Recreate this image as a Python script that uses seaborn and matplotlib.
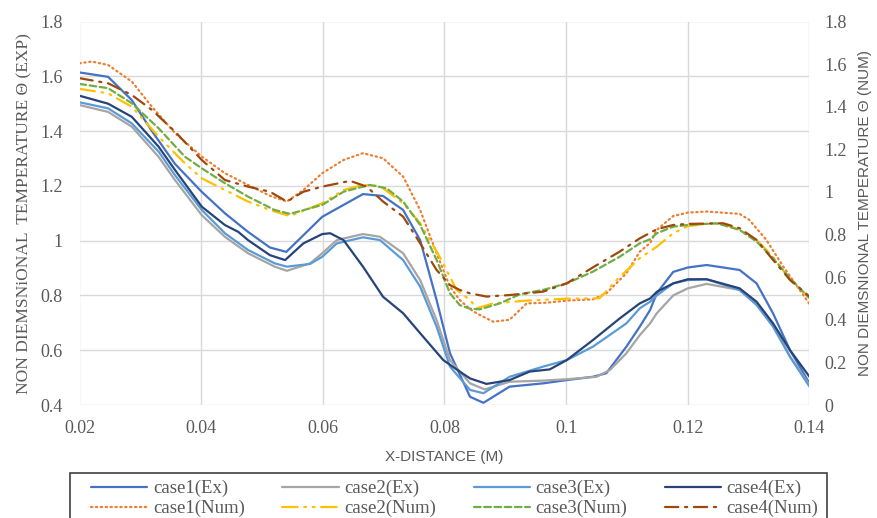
import matplotlib
matplotlib.use("Agg")
import matplotlib.pyplot as plt
from matplotlib.patches import Rectangle
import seaborn as sns

# ---------------- data ----------------
case1_ex_x = [0.020, 0.0247, 0.0286, 0.0319, 0.0357, 0.0401, 0.0439, 0.0477, 0.0513, 0.0540, 0.0599, 0.0666,
              0.0699, 0.0732, 0.0760, 0.0787, 0.0809, 0.0842, 0.0864, 0.0907, 0.0962, 0.1001, 0.1044, 0.1066,
              0.1099, 0.1121, 0.1138, 0.1149, 0.1176, 0.1200, 0.1231, 0.1285, 0.1313, 0.1340, 0.1368, 0.1400]
case1_ex_y = [1.614, 1.598, 1.513, 1.400, 1.280, 1.178, 1.100, 1.032, 0.975, 0.959, 1.087, 1.170,
              1.163, 1.112, 1.002, 0.783, 0.589, 0.430, 0.408, 0.467, 0.479, 0.491, 0.503, 0.516,
              0.613, 0.686, 0.747, 0.808, 0.886, 0.902, 0.911, 0.893, 0.844, 0.735, 0.600, 0.479]

case2_ex_x = [0.020, 0.0247, 0.0286, 0.0330, 0.0357, 0.0401, 0.0439, 0.0477, 0.0521, 0.0541, 0.0579, 0.0599,
              0.0623, 0.0666, 0.0694, 0.0732, 0.0760, 0.0787, 0.0809, 0.0842, 0.0866, 0.0907, 0.0962, 0.1001,
              0.1050, 0.1072, 0.1099, 0.1121, 0.1138, 0.1149, 0.1176, 0.1200, 0.1231, 0.1285, 0.1313, 0.1340,
              0.1368, 0.1400]
case2_ex_y = [1.495, 1.470, 1.416, 1.306, 1.221, 1.093, 1.014, 0.954, 0.905, 0.890, 0.917, 0.954,
              1.002, 1.024, 1.014, 0.954, 0.856, 0.710, 0.564, 0.479, 0.457, 0.485, 0.489, 0.494,
              0.503, 0.528, 0.589, 0.655, 0.698, 0.735, 0.800, 0.826, 0.842, 0.820, 0.771, 0.698,
              0.576, 0.473]

case3_ex_x = [0.020, 0.0247, 0.0286, 0.0330, 0.0357, 0.0401, 0.0439, 0.0477, 0.0521, 0.0541, 0.0579, 0.0599,
              0.0623, 0.0666, 0.0694, 0.0732, 0.0760, 0.0787, 0.0809, 0.0842, 0.0864, 0.0907, 0.0962, 0.1001,
              0.1044, 0.1099, 0.1121, 0.1138, 0.1149, 0.1176, 0.1200, 0.1231, 0.1285, 0.1313, 0.1340, 0.1368,
              0.1400]
case3_ex_y = [1.505, 1.483, 1.428, 1.325, 1.239, 1.112, 1.027, 0.966, 0.917, 0.905, 0.915, 0.941,
              0.990, 1.012, 1.002, 0.929, 0.832, 0.686, 0.540, 0.455, 0.443, 0.503, 0.540, 0.564,
              0.613, 0.698, 0.753, 0.777, 0.800, 0.844, 0.856, 0.859, 0.820, 0.765, 0.686, 0.576,
              0.467]

case4_ex_x = [0.020, 0.0247, 0.0286, 0.0330, 0.0357, 0.0401, 0.0439, 0.0461, 0.0477, 0.0513, 0.0538, 0.0568,
              0.0599, 0.0612, 0.0634, 0.0666, 0.0699, 0.0732, 0.0760, 0.0798, 0.0825, 0.0842, 0.0869, 0.0907,
              0.0940, 0.0973, 0.1001, 0.1044, 0.1088, 0.1121, 0.1138, 0.1149, 0.1176, 0.1200, 0.1231, 0.1285,
              0.1313, 0.1340, 0.1368, 0.1400]
case4_ex_y = [1.529, 1.500, 1.452, 1.343, 1.258, 1.124, 1.057, 1.032, 1.002, 0.947, 0.929, 0.990,
              1.024, 1.027, 1.002, 0.905, 0.795, 0.735, 0.662, 0.564, 0.522, 0.497, 0.477, 0.491,
              0.522, 0.530, 0.564, 0.637, 0.716, 0.771, 0.789, 0.813, 0.844, 0.859, 0.859, 0.826,
              0.777, 0.698, 0.600, 0.503]

case1_num_x = [0.020, 0.0220, 0.0247, 0.0286, 0.0319, 0.0357, 0.0401, 0.0439, 0.0477, 0.0513, 0.0541, 0.0568,
               0.0599, 0.0634, 0.0666, 0.0699, 0.0732, 0.0760, 0.0787, 0.0809, 0.0825, 0.0842, 0.0853, 0.0880,
               0.0907, 0.0935, 0.0968, 0.1001, 0.1044, 0.1066, 0.1099, 0.1121, 0.1138, 0.1149, 0.1176, 0.1200,
               0.1231, 0.1285, 0.1301, 0.1329, 0.1357, 0.1384, 0.1400]
case1_num_y = [1.604, 1.612, 1.596, 1.518, 1.400, 1.276, 1.166, 1.088, 1.033, 0.982, 0.955, 1.009,
               1.088, 1.150, 1.182, 1.158, 1.072, 0.915, 0.712, 0.555, 0.493, 0.450, 0.430, 0.391,
               0.400, 0.477, 0.480, 0.490, 0.496, 0.524, 0.618, 0.720, 0.760, 0.822, 0.887, 0.903,
               0.908, 0.897, 0.869, 0.775, 0.649, 0.540, 0.474]

case2_num_x = [0.020, 0.0247, 0.0286, 0.0330, 0.0373, 0.0401, 0.0439, 0.0477, 0.0499, 0.0513, 0.0546, 0.0599,
               0.0634, 0.0666, 0.0694, 0.0732, 0.0760, 0.0792, 0.0820, 0.0842, 0.0853, 0.0880, 0.0935, 0.1001,
               0.1055, 0.1083, 0.1121, 0.1149, 0.1176, 0.1200, 0.1231, 0.1258, 0.1285, 0.1313, 0.1340, 0.1368,
               0.1400]
case2_num_y = [1.484, 1.463, 1.400, 1.260, 1.135, 1.064, 1.009, 0.955, 0.931, 0.915, 0.887, 0.947,
               1.009, 1.033, 1.028, 0.947, 0.853, 0.696, 0.540, 0.493, 0.454, 0.477, 0.490, 0.499,
               0.501, 0.587, 0.689, 0.743, 0.806, 0.840, 0.850, 0.850, 0.822, 0.775, 0.696, 0.587,
               0.501]

case3_num_x = [0.020, 0.0247, 0.0286, 0.0330, 0.0373, 0.0401, 0.0439, 0.0477, 0.0521, 0.0546, 0.0599, 0.0634,
               0.0677, 0.0705, 0.0732, 0.0760, 0.0787, 0.0809, 0.0825, 0.0842, 0.0858, 0.0891, 0.0924, 0.0962,
               0.1001, 0.1044, 0.1088, 0.1121, 0.1138, 0.1149, 0.1176, 0.1200, 0.1247, 0.1285, 0.1313, 0.1340,
               0.1368, 0.1400]
case3_num_y = [1.507, 1.487, 1.416, 1.299, 1.166, 1.111, 1.041, 0.978, 0.915, 0.897, 0.939, 1.001,
               1.033, 1.017, 0.955, 0.845, 0.681, 0.524, 0.469, 0.452, 0.449, 0.477, 0.520, 0.540,
               0.571, 0.626, 0.696, 0.759, 0.778, 0.806, 0.837, 0.845, 0.853, 0.822, 0.767, 0.689,
               0.595, 0.501]

case4_num_x = [0.020, 0.0247, 0.0286, 0.0319, 0.0357, 0.0401, 0.0439, 0.0477, 0.0513, 0.0541, 0.0568, 0.0599,
               0.0645, 0.0672, 0.0699, 0.0732, 0.0760, 0.0787, 0.0809, 0.0825, 0.0842, 0.0869, 0.0907, 0.0962,
               0.1001, 0.1044, 0.1088, 0.1121, 0.1149, 0.1176, 0.1200, 0.1258, 0.1285, 0.1313, 0.1340, 0.1368,
               0.1400]
case4_num_y = [1.534, 1.510, 1.455, 1.385, 1.283, 1.150, 1.056, 1.025, 1.001, 0.955, 1.001, 1.025,
               1.052, 1.025, 0.955, 0.884, 0.759, 0.634, 0.563, 0.540, 0.524, 0.509, 0.516, 0.532,
               0.571, 0.646, 0.720, 0.782, 0.825, 0.845, 0.850, 0.853, 0.830, 0.775, 0.681, 0.587,
               0.509]

x_ticks = [0.02, 0.04, 0.06, 0.08, 0.1, 0.12, 0.14]
x_tick_labels = ["0.02", "0.04", "0.06", "0.08", "0.1", "0.12", "0.14"]
left_ticks = [0.4, 0.6, 0.8, 1.0, 1.2, 1.4, 1.6, 1.8]
left_tick_labels = ["0.4", "0.6", "0.8", "1", "1.2", "1.4", "1.6", "1.8"]
right_ticks = [0, 0.2, 0.4, 0.6, 0.8, 1.0, 1.2, 1.4, 1.6, 1.8]
right_tick_labels = ["0", "0.2", "0.4", "0.6", "0.8", "1", "1.2", "1.4", "1.6", "1.8"]

# ---------------- styling ----------------
sns.set_theme(style="white")
plt.rcParams['font.family'] = ['Liberation Serif', 'DejaVu Serif']
GRAY = "#595959"
W, H = 878, 518

fig = plt.figure(figsize=(8.78, 5.18), dpi=100)
ax = fig.add_axes([79.5 / W, 1 - 405 / H, 730 / W, 383.5 / H])
ax2 = ax.twinx()

ex_series = [
    ("case1(Ex)", case1_ex_x, case1_ex_y, "#4472C4"),
    ("case2(Ex)", case2_ex_x, case2_ex_y, "#A5A5A5"),
    ("case3(Ex)", case3_ex_x, case3_ex_y, "#5B9BD5"),
    ("case4(Ex)", case4_ex_x, case4_ex_y, "#264478"),
]
num_series = [
    ("case1(Num)", case1_num_x, case1_num_y, "#ED7D31", (0, (0.6, 1.6))),
    ("case2(Num)", case2_num_x, case2_num_y, "#FFC000", (0, (7, 3, 0.8, 3, 0.8, 3))),
    ("case3(Num)", case3_num_x, case3_num_y, "#70AD47", (0, (3, 1.6))),
    ("case4(Num)", case4_num_x, case4_num_y, "#9E480E", (0, (6, 3, 1, 3))),
]

handles = {}
for name, xs, ys, col in ex_series:
    sns.lineplot(x=xs, y=ys, ax=ax, color=col, linewidth=1.6, label=name, sort=False)
    handles[name] = ax.lines[-1]
for name, xs, ys, col, ls in num_series:
    sns.lineplot(x=xs, y=ys, ax=ax2, color=col, linewidth=1.6, linestyle=ls,
                 label=name, sort=False, dash_capstyle="round")
    handles[name] = ax2.lines[-1]

for a in (ax, ax2):
    if a.get_legend() is not None:
        a.get_legend().remove()
    for s in a.spines.values():
        s.set_visible(False)

ax.set_xlim(0.02, 0.14)
ax.set_ylim(0.4, 1.8)
ax2.set_ylim(0, 1.8)
ax.set_xticks(x_ticks)
ax.set_xticklabels(x_tick_labels)
ax.set_yticks(left_ticks)
ax.set_yticklabels(left_tick_labels)
ax2.set_yticks(right_ticks)
ax2.set_yticklabels(right_tick_labels)

ax.grid(True, color="#D9D9D9", linewidth=1.0)
ax2.grid(False)
ax.set_axisbelow(True)

ax.tick_params(axis="x", length=0, labelsize=13, labelcolor=GRAY, pad=11)
ax.tick_params(axis="y", length=0, labelsize=13, labelcolor=GRAY, pad=12)
ax2.tick_params(axis="y", length=0, labelsize=13, labelcolor=GRAY, pad=11)

ax.set_xlabel("X-DISTANCE (M)", fontsize=11, color=GRAY,
              family=['Liberation Sans', 'DejaVu Sans'], labelpad=9)
ax.set_ylabel("NON DIEMSNiONAL  TEMPERATURE \u0398 (EXP)", fontsize=12.5, color=GRAY, labelpad=6)
ax2.set_ylabel("NON DIEMSNIONAL TEMPERATURE \u0398 (NUM)", fontsize=11, color=GRAY,
               family=['Liberation Sans', 'DejaVu Sans'], labelpad=8)

# legend box (frame drawn separately so it runs off the bottom like the reference)
fig.patches.append(Rectangle((70 / W, -0.05), 757 / W, (518 - 473) / H + 0.05,
                             transform=fig.transFigure, fill=False,
                             edgecolor="#404040", linewidth=1.2))

order = ["case1(Ex)", "case1(Num)", "case2(Ex)", "case2(Num)",
         "case3(Ex)", "case3(Num)", "case4(Ex)", "case4(Num)"]
leg = fig.legend([handles[n] for n in order], order, ncol=4,
                 loc="upper left", bbox_to_anchor=(91 / W, 1 - 480 / H),
                 frameon=False, fontsize=13.5, handlelength=3.0, handletextpad=0.3,
                 borderaxespad=0, borderpad=0, columnspacing=2.0, labelspacing=0.15)
for t in leg.get_texts():
    t.set_color(GRAY)

fig.savefig("out.png", dpi=100)
